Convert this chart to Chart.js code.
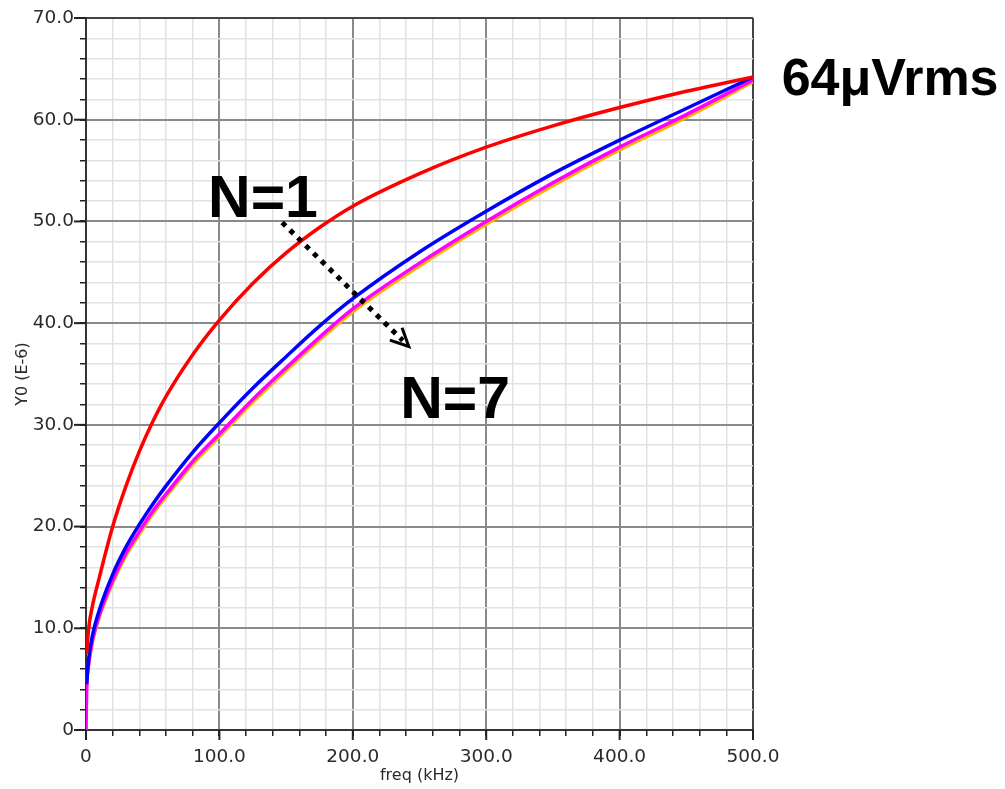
<!DOCTYPE html>
<html lang="en">
<head>
  <meta charset="UTF-8" />
  <title>Noise vs freq</title>
  <script src="https://cdn.jsdelivr.net/npm/chart.js@4.4.1/dist/chart.umd.min.js"></script>
  <style>
    *{margin:0;padding:0;box-sizing:border-box}
    body{background:#fff;width:1005px;height:789px;overflow:hidden}
    .wrap{position:relative;width:1005px;height:789px}
  </style>
</head>
<body>
  <div class="wrap"><canvas id="noiseChart"></canvas></div>
  <script>
    // frequency points (kHz)
    const freqs = [0,0.5,2,5,10,20,30,40,50,60,80,100,125,150,175,200,250,300,350,400,450,500];
    // Y0 values (E-6)
    const n1Vals = [null,7.5,10.0,12.3,15.0,20.0,24.0,27.4,30.3,32.8,36.9,40.3,43.9,46.9,49.4,51.5,54.7,57.3,59.4,61.2,62.8,64.2];
    const nBlueVals = [null,4.5,7.0,9.4,11.8,15.3,18.0,20.2,22.2,24.0,27.3,30.2,33.6,36.7,39.7,42.4,47.0,51.0,54.7,58.0,61.1,64.2];
    const nMagVals = [0,4.0,6.5,8.9,11.3,14.7,17.4,19.5,21.5,23.2,26.4,29.1,32.5,35.6,38.6,41.4,45.9,50.0,53.8,57.3,60.5,63.9];
    const n7Vals = [0,3.8,6.2,8.6,11.0,14.4,17.1,19.2,21.2,22.9,26.1,28.8,32.2,35.3,38.3,41.1,45.6,49.7,53.5,57.0,60.2,63.7];
    const yTicks = [0,10,20,30,40,50,60,70];
    const xTicks = [0,100,200,300,400,500];

    const pts = vals => freqs.map((f,i)=>({x:f,y:vals[i]}));
    const fmt = v => v===0 ? '0' : v.toFixed(1);

    // annotation texts placed in data units
    const notes = [
      {text:'N=1', f:91.5, v:50.4, size:59},
      {text:'N=7', f:235.5, v:30.7, size:59},
      {text:'64\u03bcVrms', f:521.5, v:62.4, size:52}
    ];
    const arrowFrom = {f:147, v:49.9};
    const arrowTo = {f:242, v:37.7};

    const gridColor = ctx => {
      const v = ctx.tick ? ctx.tick.value : 0;
      if (v === 70 || v === 500) return '#444';
      const major = ctx.scale.axis==='y' ? v % 10 === 0 : v % 100 === 0;
      return major ? '#8a8a8a' : '#e2e2e2';
    };

    const annotate = {
      id:'annotate',
      afterDraw(chart){
        const c = chart.ctx, xs = chart.scales.x, ys = chart.scales.y;
        c.save();
        // longer tick marks at labelled values
        c.strokeStyle = '#222'; c.lineWidth = 2;
        yTicks.forEach(v=>{const y=ys.getPixelForValue(v);c.beginPath();c.moveTo(xs.left-12,y);c.lineTo(xs.left,y);c.stroke();});
        xTicks.forEach(v=>{const x=xs.getPixelForValue(v);c.beginPath();c.moveTo(x,ys.bottom);c.lineTo(x,ys.bottom+10);c.stroke();});
        c.fillStyle = '#000';
        c.textBaseline = 'alphabetic';
        notes.forEach(n=>{
          c.font = 'bold '+n.size+'px "Liberation Sans", Arial, sans-serif';
          c.fillText(n.text, xs.getPixelForValue(n.f), ys.getPixelForValue(n.v));
        });
        const x1 = xs.getPixelForValue(arrowFrom.f), y1 = ys.getPixelForValue(arrowFrom.v);
        const x2 = xs.getPixelForValue(arrowTo.f), y2 = ys.getPixelForValue(arrowTo.v);
        c.strokeStyle = '#000';
        c.lineWidth = 5;
        c.setLineDash([5,6]);
        c.beginPath(); c.moveTo(x1,y1); c.lineTo(x2-6,y2-6); c.stroke();
        c.setLineDash([]);
        const a = Math.atan2(y2-y1, x2-x1);
        c.lineWidth = 3;
        c.beginPath();
        c.moveTo(x2+20*Math.cos(a+Math.PI-0.45), y2+20*Math.sin(a+Math.PI-0.45));
        c.lineTo(x2,y2);
        c.lineTo(x2+20*Math.cos(a+Math.PI+0.45), y2+20*Math.sin(a+Math.PI+0.45));
        c.stroke();
        c.restore();
      }
    };

    const line = (vals,color,w) => ({data:pts(vals),borderColor:color,borderWidth:w,pointRadius:0,cubicInterpolationMode:'monotone',fill:false});

    new Chart(document.getElementById('noiseChart').getContext('2d'),{
      type:'line',
      data:{datasets:[
        line(n1Vals,'#ff0000',3.5),
        line(nBlueVals,'#0000ff',3.5),
        line(nMagVals,'#ff00ff',3.5),
        line(n7Vals,'#ffb400',3)
      ]},
      options:{
        responsive:true,maintainAspectRatio:false,animation:false,
        layout:{padding:{top:18,right:252,left:0,bottom:0}},
        plugins:{legend:{display:false},tooltip:{enabled:false}},
        scales:{
          x:{type:'linear',min:0,max:500,
            afterFit:s=>{s.height=59},
            border:{display:true,color:'#333',width:2},
            grid:{color:gridColor,lineWidth:ctx=>ctx.tick&&ctx.tick.value%100===0?2:1.5,tickColor:'#222',tickLength:6,drawTicks:true},
            ticks:{stepSize:20,autoSkip:false,maxRotation:0,padding:10,color:'#2a2a2a',font:{family:'"DejaVu Sans"',size:18.5},
              callback:v=>xTicks.includes(v)?fmt(v):''},
            title:{display:true,text:'freq (kHz)',color:'#2a2a2a',font:{family:'"DejaVu Sans"',size:16},padding:{top:0}}
          },
          y:{min:0,max:70,
            afterFit:s=>{s.width=86},
            border:{display:true,color:'#333',width:2},
            grid:{color:gridColor,lineWidth:ctx=>ctx.tick&&ctx.tick.value%10===0?2:1.5,tickColor:'#222',tickLength:6,drawTicks:true},
            ticks:{stepSize:2,autoSkip:false,padding:6,color:'#2a2a2a',font:{family:'"DejaVu Sans"',size:18.5},
              callback:v=>yTicks.includes(v)?fmt(v):''},
            title:{display:true,text:'Y0 (E-6)',color:'#2a2a2a',font:{family:'"DejaVu Sans"',size:16},padding:{top:13,bottom:0}}
          }
        }
      },
      plugins:[annotate]
    });
  </script>
</body>
</html>
